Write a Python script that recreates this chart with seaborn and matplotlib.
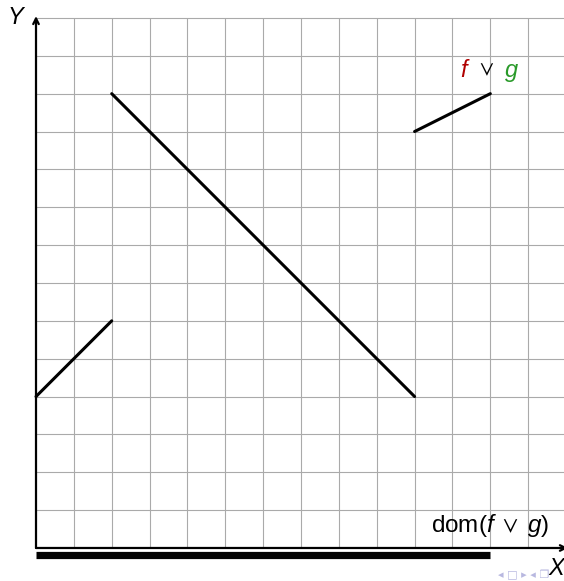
import numpy as np
import pandas as pd
import matplotlib
matplotlib.use("Agg")
import matplotlib.pyplot as plt
import seaborn as sns

# piecewise function f v g, one segment per piece
seg_ids = [0, 0, 1, 1, 2, 2]
seg_x = [0, 2, 2, 10, 10, 12]
seg_y = [4, 6, 12, 4, 11, 12]

# domain of f v g on the X axis
dom_x = [0, 12]

grid_x = list(range(1, 14))
grid_y = list(range(1, 15))

sns.set_style("white")
plt.rcParams["font.family"] = ["Liberation Sans", "DejaVu Sans"]
plt.rcParams["text.color"] = "black"
plt.rcParams["mathtext.fontset"] = "custom"
plt.rcParams["mathtext.it"] = "Liberation Sans:italic"
plt.rcParams["mathtext.rm"] = "Liberation Sans"
plt.rcParams["mathtext.fallback"] = "stixsans"

fig = plt.figure(figsize=(5.64, 5.81), dpi=100)
ax = fig.add_axes([0, 0, 1, 1])

# grid
for gx in grid_x:
    ax.plot([gx, gx], [0, 14], color="#aaaaaa", lw=0.8, zorder=1)
for gy in grid_y:
    ax.plot([0, 14], [gy, gy], color="#aaaaaa", lw=0.8, zorder=1)

df = pd.DataFrame({"seg": seg_ids, "x": seg_x, "y": seg_y})
sns.lineplot(data=df, x="x", y="y", units="seg", estimator=None, color="black",
             lw=2.2, ax=ax, zorder=3, legend=False)

dom = pd.DataFrame({"x": dom_x, "y": [-0.19] * len(dom_x)})
sns.lineplot(data=dom, x="x", y="y", color="black", lw=5.2, ax=ax,
             solid_capstyle="butt", zorder=3)
ax.set_xlim(-0.951, 13.946)
ax.set_ylim(-0.872, 14.474)
ax.axis("off")

# axes arrows
ax.annotate("", xy=(0, 14.05), xytext=(0, 0), annotation_clip=False,
            arrowprops=dict(arrowstyle="->", color="black", lw=1.6, shrinkA=0, shrinkB=0))
ax.annotate("", xy=(14.05, 0), xytext=(0, 0), annotation_clip=False,
            arrowprops=dict(arrowstyle="->", color="black", lw=1.6, shrinkA=0, shrinkB=0))

# labels
ax.text(-0.55, 14.0, "Y", fontsize=17, style="italic", ha="center", va="center")
ax.text(13.95, -0.53, "X", fontsize=17, style="italic", ha="right", va="center")
ax.text(11.3, 12.6, "f", fontsize=17, style="italic", color="#b00000", ha="center", va="center")
ax.text(11.9, 12.62, r"$\vee$", fontsize=16, color="black", ha="center", va="center")
ax.text(12.55, 12.6, "g", fontsize=17, style="italic", color="#2a9a2a", ha="center", va="center")
ax.text(13.55, 0.6, r"dom$(f\;\vee\;g)$", fontsize=17.5, ha="right", va="center")

# beamer navigation symbols
ax.text(13.55, -0.72, "◂ □ ▸ ◂ ❐", fontsize=8, color="#b8b8e0", ha="right", va="center",
        family=["DejaVu Sans"])

fig.savefig("out.png", dpi=100)
